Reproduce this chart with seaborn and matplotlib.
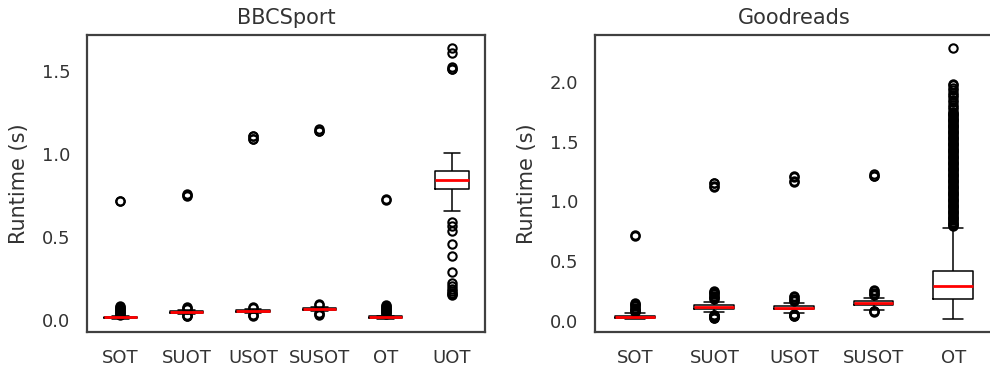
import numpy as np
import pandas as pd
import matplotlib.pyplot as plt
import seaborn as sns
from matplotlib.ticker import MultipleLocator

sns.set_theme(style='white')
plt.rcParams['font.family'] = ['DejaVu Sans']

# five-number summaries per method: lower whisker, Q1, median, Q3, upper whisker (s)
bbc_methods = ['SOT', 'SUOT', 'USOT', 'SUSOT', 'OT', 'UOT']
bbc_summary = [
    [0.008, 0.013, 0.016, 0.019, 0.022],
    [0.038, 0.044, 0.048, 0.052, 0.058],
    [0.042, 0.048, 0.054, 0.058, 0.064],
    [0.056, 0.063, 0.068, 0.072, 0.078],
    [0.008, 0.014, 0.018, 0.022, 0.026],
    [0.658, 0.788, 0.840, 0.898, 1.004],
]
bbc_fliers = [
    [0.032, 0.038, 0.044, 0.050, 0.056, 0.062, 0.068, 0.074, 0.080, 0.086, 0.714, 0.716],
    [0.022, 0.026, 0.030, 0.068, 0.074, 0.080, 0.748, 0.752, 0.760],
    [0.024, 0.028, 0.032, 0.075, 0.080, 1.088, 1.092, 1.106, 1.110],
    [0.032, 0.038, 0.044, 0.088, 0.094, 1.136, 1.140, 1.148],
    [0.036, 0.042, 0.048, 0.054, 0.060, 0.066, 0.072, 0.078, 0.084, 0.090, 0.720, 0.726],
    [0.150, 0.155, 0.165, 0.175, 0.190, 0.205, 0.225, 0.290, 0.385, 0.455,
     0.535, 0.565, 0.590, 1.508, 1.512, 1.525, 1.605, 1.634],
]

gr_methods = ['SOT', 'SUOT', 'USOT', 'SUSOT', 'OT']
gr_summary = [
    [0.016, 0.026, 0.034, 0.042, 0.064],
    [0.070, 0.100, 0.117, 0.130, 0.159],
    [0.062, 0.095, 0.109, 0.120, 0.151],
    [0.092, 0.135, 0.151, 0.165, 0.193],
    [0.016, 0.180, 0.291, 0.420, 0.775],
]
gr_fliers = [
    [0.07, 0.08, 0.09, 0.10, 0.11, 0.12, 0.13, 0.14, 0.15, 0.711, 0.715],
    [0.020, 0.025, 0.030, 0.035, 0.040, 0.045, 0.050,
     0.18, 0.19, 0.20, 0.21, 0.22, 0.23, 0.24, 0.25, 1.122, 1.126, 1.150, 1.155],
    [0.035, 0.040, 0.045, 0.050, 0.055,
     0.165, 0.175, 0.185, 0.195, 0.205, 1.164, 1.168, 1.206, 1.210],
    [0.072, 0.078, 0.084, 0.215, 0.225, 0.235, 0.245, 0.255, 1.208, 1.212, 1.225],
    [0.79, 0.80, 0.81, 0.82, 0.83, 0.84, 0.85, 0.86, 0.87, 0.88,
     0.89, 0.90, 0.91, 0.92, 0.93, 0.94, 0.95, 0.96, 0.97, 0.98,
     0.99, 1.00, 1.01, 1.02, 1.03, 1.04, 1.05, 1.06, 1.07, 1.08,
     1.09, 1.10, 1.11, 1.12, 1.13, 1.14, 1.15, 1.16, 1.17, 1.18,
     1.19, 1.20, 1.21, 1.22, 1.23, 1.24, 1.25, 1.26, 1.27, 1.28,
     1.29, 1.30, 1.31, 1.32, 1.33, 1.34, 1.35, 1.36, 1.37, 1.38,
     1.39, 1.40, 1.41, 1.42, 1.43, 1.44, 1.45, 1.46, 1.47, 1.48,
     1.49, 1.50, 1.51, 1.52, 1.53, 1.54, 1.55, 1.56, 1.57, 1.58,
     1.59, 1.60, 1.61, 1.62, 1.63, 1.64, 1.65, 1.66, 1.67, 1.68,
     1.69, 1.70, 1.71, 1.72, 1.73, 1.74, 1.75,
     1.77, 1.79, 1.81, 1.83, 1.85, 1.87, 1.89, 1.91, 1.93, 1.95, 1.97, 1.98,
     2.28],
]


def long_form(methods, summary, fliers, reps=400):
    # repeat the summary values so the quartiles land on them, then add the outliers
    parts = []
    for name, stats, out in zip(methods, summary, fliers):
        vals = np.concatenate([np.repeat(stats, reps), np.asarray(out, float)])
        parts.append(pd.DataFrame({'method': name, 'runtime': vals}))
    return pd.concat(parts, ignore_index=True)


panels = [
    ('BBCSport', bbc_methods, long_form(bbc_methods, bbc_summary, bbc_fliers),
     [0.088, 0.0995, 0.402, 0.806]),
    ('Goodreads', gr_methods, long_form(gr_methods, gr_summary, gr_fliers),
     [0.601, 0.0995, 0.402, 0.806]),
]

fig, axes = plt.subplots(1, 2, figsize=(9.9, 3.69), dpi=100)
for ax, (title, methods, df, rect) in zip(axes, panels):
    sns.boxplot(
        data=df, x='method', y='runtime', order=methods, ax=ax,
        width=0.5, fill=False, color='black', linecolor='black', linewidth=1.1,
        medianprops=dict(color='red', linewidth=2),
        flierprops=dict(marker='o', markerfacecolor='none', markeredgecolor='black',
                        markersize=6, markeredgewidth=1.5))
    ax.set_title(title, fontsize=15, color='0.2', pad=8)
    ax.set_xlabel('')
    ax.set_ylabel('Runtime (s)', fontsize=15, color='0.2', labelpad=9)
    ax.yaxis.set_major_locator(MultipleLocator(0.5))
    ax.tick_params(labelsize=13, length=0, pad=12, labelcolor='0.2')
    for sp in ax.spines.values():
        sp.set_color('0.25')
        sp.set_linewidth(1.6)
    ax.set_position(rect)

fig.savefig('out.png', dpi=100)
